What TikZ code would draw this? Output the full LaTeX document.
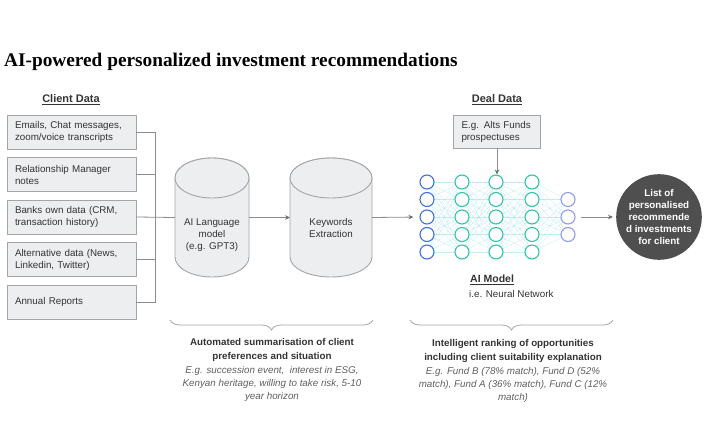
\documentclass[tikz,border=0pt]{standalone}
\usepackage{fontspec}
\setmainfont{Liberation Sans}
\newfontfamily\titlefont{Liberation Serif}
\usetikzlibrary{arrows.meta,decorations.pathreplacing,calc,backgrounds}

\definecolor{boxfill}{HTML}{EDEEF0}
\definecolor{boxline}{HTML}{A3A5A9}
\definecolor{linec}{HTML}{8C8C8C}
\definecolor{arrowc}{HTML}{6E6E6E}
\definecolor{txtc}{HTML}{333333}
\definecolor{nnblue}{HTML}{4070D8}
\definecolor{nnteal}{HTML}{30C4A8}
\definecolor{nnviolet}{HTML}{8E9CEA}
\definecolor{nnedge}{HTML}{8FDDEB}
\definecolor{circfill}{HTML}{4F4F4F}
\definecolor{italc}{HTML}{5E5E5E}

\newcommand\cylshape[2]{%
  \path[cylstyle] ($(#1.north west)+(0,20)$) -- ($(#1.south west)+(0,-20)$)
    arc[start angle=180,end angle=360,x radius=#2pt,y radius=20pt]
    -- ($(#1.north east)+(0,20)$)
    arc[start angle=0,end angle=180,x radius=#2pt,y radius=20pt] -- cycle;
  \path[cylstyle] ($(#1.north)+(0,20)$) ellipse[x radius=#2pt,y radius=20pt];
}

\begin{document}
\begin{tikzpicture}[x=1pt,y=-1pt,
  txt/.style={font=\fontsize{9.8}{12}\selectfont, text=txtc},
  databox/.style={txt, draw=boxline, fill=boxfill, line width=0.9pt, minimum width=129pt,
    minimum height=34pt, text width=113pt, align=left, inner xsep=8pt, inner ysep=2pt},
  dealbox/.style={txt, draw=boxline, fill=boxfill, line width=0.9pt, minimum width=87pt,
    minimum height=33pt, text width=71pt, align=left, inner xsep=8pt, inner ysep=2pt},
  heading/.style={font=\bfseries\fontsize{11}{13}\selectfont, text=txtc},
  cylbox/.style={rectangle, inner sep=0pt, outer sep=0pt, minimum height=119pt},
  cylstyle/.style={draw=boxline, fill=boxfill, line width=0.9pt},
  cyltext/.style={txt, align=center},
  conn/.style={draw=linec, line width=0.8pt},
  arr/.style={draw=linec, line width=0.8pt, -{Stealth[length=5pt,width=4.5pt,color=arrowc]}},
  neuron/.style={circle, minimum size=14pt, inner sep=0pt, line width=1.1pt, fill=white},
  nnedgestyle/.style={draw=nnedge, line width=0.3pt, opacity=0.55},
  brace/.style={draw=boxline, line width=0.8pt, decorate, decoration={brace, amplitude=10pt}},
  boldtext/.style={font=\bfseries\fontsize{9.8}{14}\selectfont, text=txtc, align=center},
  italtext/.style={font=\itshape\fontsize{9.8}{13}\selectfont, text=italc, align=center}
]
\useasboundingbox (0,0) rectangle (720,431);

% title
\node[anchor=west, inner sep=0pt, font=\titlefont\bfseries\fontsize{19.3}{22}\selectfont, text=black] (title) at (4,62) {AI-powered personalized investment recommendations};

% client data
\node[heading] (clienth) at (71,100) {\underline{Client Data}};
\node[databox] (b1) at (71.5,132) {Emails, Chat messages,\\zoom/voice transcripts};
\node[databox] (b2) at (71.5,174.5) {Relationship Manager\\notes};
\node[databox] (b3) at (71.5,217) {Banks own data (CRM,\\transaction history)};
\node[databox] (b4) at (71.5,259.5) {Alternative data (News,\\Linkedin, Twitter)};
\node[databox] (b5) at (71.5,302) {Annual Reports};

% cylinders
\node[cylbox, minimum width=74pt] (llm) at (212,217.5) {};
\cylshape{llm}{37}
\node[cyltext] (llmt) at (212,235) {AI Language\\model\\(e.g. GPT3)};
\node[cylbox, minimum width=82pt] (kw) at (331,217.5) {};
\cylshape{kw}{41}
\node[cyltext] (kwt) at (331,228) {Keywords\\Extraction};

% bus
\draw[conn] (b1.east) -- ++(19,0) coordinate (bt) -- (bt |- b5.east) -- (b5.east);
\draw[conn] (b2.east) -- (b2.east -| bt);
\draw[conn] (b4.east) -- (b4.east -| bt);
\draw[conn] (b3.east) -- (llm.west);

% neural network
\foreach \c/\x in {1/427,2/462,3/496,4/532}{
  \foreach \r in {1,...,5}{
    \ifnum\c=1 \def\nc{nnblue}\else\def\nc{nnteal}\fi
    \node[neuron, draw=\nc] (n\c\r) at (\x,{217+(\r-3)*17.5}) {};
  }
}
\foreach \r in {1,2,3}{
  \node[neuron, draw=nnviolet] (n5\r) at (568,{217+(\r-2)*17.5}) {};
}
\begin{scope}[on background layer]
  \foreach \a in {1,...,5}{
    \foreach \b in {1,...,5}{
      \draw[nnedgestyle] (n1\a.center) -- (n2\b.center);
      \draw[nnedgestyle] (n2\a.center) -- (n3\b.center);
      \draw[nnedgestyle] (n3\a.center) -- (n4\b.center);
    }
    \foreach \b in {1,2,3}{
      \draw[nnedgestyle] (n4\a.center) -- (n5\b.center);
    }
  }
\end{scope}

\draw[arr] (llm.east) -- (kw.west);
\draw[arr, shorten >=6pt] (kw.east) -- (n13.west);

% deal data
\node[heading] (dealh) at (497,100) {\underline{Deal Data}};
\node[dealbox] (deal) at (497,131.5) {E.g. Alts Funds\\prospectuses};
\draw[arr] (deal.south) -- (deal.south |- n31.north);

% AI model label
\node[anchor=west, inner sep=0pt, font=\bfseries\fontsize{10.5}{12}\selectfont, text=txtc] (aim) at (470,280) {\underline{AI Model}};
\node[anchor=west, inner sep=0pt, txt] (nnl) at (469,294) {i.e. Neural Network};

% output
\node[circle, fill=circfill, minimum size=82pt, inner sep=0pt, text=white, align=center,
  font=\bfseries\fontsize{9.8}{12}\selectfont] (out) at (659,217) {List of\\personalised\\recommende\\d investments\\for client};
\draw[arr, shorten <=5pt, shorten >=3pt] (n52.east) -- (out.west);

% braces
\coordinate (br1a) at (373,320);
\coordinate (br1b) at (170,320);
\coordinate (br2a) at (613,320);
\coordinate (br2b) at (410,320);
\draw[brace] (br1a) -- (br1b);
\draw[brace] (br2a) -- (br2b);

\node[boldtext] (s1) at (272,350) {Automated summarisation of client\\preferences and situation};
\node[italtext] (e1) at (272,383.5) {E.g. succession event,\ \ interest in ESG,\\Kenyan heritage, willing to take risk, 5-10\\year horizon};
\node[boldtext] (s2) at (513,350.5) {Intelligent ranking of opportunities\\including client suitability explanation};
\node[italtext] (e2) at (513,385) {E.g. Fund B (78\% match), Fund D (52\%\\match), Fund A (36\% match), Fund C (12\%\\match)};
\end{tikzpicture}
\end{document}
